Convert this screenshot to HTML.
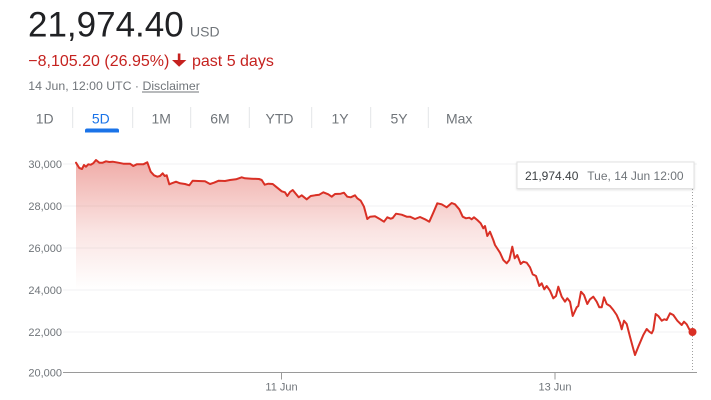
<!DOCTYPE html>
<html>
<head>
<meta charset="utf-8">
<style>
  html,body{margin:0;padding:0;background:#fff;}
  body{width:711px;height:400px;overflow:hidden;}
  svg{display:block;font-family:"Liberation Sans", Arial, sans-serif;}
</style>
</head>
<body>
<svg width="711" height="400" viewBox="0 0 711 400" xmlns="http://www.w3.org/2000/svg">
  <defs>
    <linearGradient id="g" gradientUnits="userSpaceOnUse" x1="0" y1="160" x2="0" y2="290">
      <stop offset="0" stop-color="#d93025" stop-opacity="0.4"/>
      <stop offset="0.55" stop-color="#d93025" stop-opacity="0.13"/>
      <stop offset="1" stop-color="#d93025" stop-opacity="0"/>
    </linearGradient>
    <filter id="sh" x="-10%" y="-30%" width="120%" height="160%">
      <feDropShadow dx="0" dy="1" stdDeviation="1" flood-color="#000" flood-opacity="0.12"/>
    </filter>
  </defs>
  <rect width="711" height="400" fill="#fff"/>

  <!-- Header -->
  <text x="28" y="36.7" font-size="35" fill="#202124">21,974.40</text>
  <text x="190" y="36.5" font-size="14" fill="#70757a">USD</text>

  <text x="28.3" y="66" font-size="16" fill="#c5221f">−8,105.20 (26.95%)</text>
  <rect x="177.8" y="53.5" width="2.6" height="7.5" fill="#c5221f"/>
  <polygon points="172,60 186.4,60 179.1,66.8" fill="#c5221f"/>
  <text x="192" y="66" font-size="16" fill="#c5221f">past 5 days</text>

  <text x="28.3" y="90" font-size="12.3" fill="#70757a">14 Jun, 12:00 UTC · Disclaimer</text>
  <line x1="142" y1="92" x2="199" y2="92" stroke="#70757a" stroke-width="0.9"/>

  <!-- Tabs -->
  <g font-size="14" fill="#70757a" text-anchor="middle">
    <text x="44.7" y="123.3">1D</text>
    <text x="100.8" y="123.3" fill="#1a73e8">5D</text>
    <text x="161.2" y="123.3">1M</text>
    <text x="220" y="123.3">6M</text>
    <text x="279.5" y="123.3">YTD</text>
    <text x="340" y="123.3">1Y</text>
    <text x="399" y="123.3">5Y</text>
    <text x="459.2" y="123.3">Max</text>
  </g>
  <g stroke="#e3e5e8" stroke-width="1">
    <line x1="72.7" y1="107" x2="72.7" y2="128"/>
    <line x1="132.7" y1="107" x2="132.7" y2="128"/>
    <line x1="190.7" y1="107" x2="190.7" y2="128"/>
    <line x1="249.3" y1="107" x2="249.3" y2="128"/>
    <line x1="311.7" y1="107" x2="311.7" y2="128"/>
    <line x1="370.7" y1="107" x2="370.7" y2="128"/>
    <line x1="428.3" y1="107" x2="428.3" y2="128"/>
  </g>
  <path d="M85 132.5 V130.5 A2 2 0 0 1 87 128.5 H117 A2 2 0 0 1 119 130.5 V132.5 Z" fill="#1a73e8"/>

  <!-- Gridlines -->
  <g stroke="#f1f2f3" stroke-width="1">
    <line x1="63" y1="164" x2="697" y2="164"/>
    <line x1="63" y1="206" x2="697" y2="206"/>
    <line x1="63" y1="248" x2="697" y2="248"/>
    <line x1="63" y1="290" x2="697" y2="290"/>
    <line x1="63" y1="332" x2="697" y2="332"/>
  </g>

  <!-- Y labels -->
  <g font-size="11" fill="#70757a" text-anchor="end">
    <text x="62" y="168">30,000</text>
    <text x="62" y="210">28,000</text>
    <text x="62" y="252">26,000</text>
    <text x="62" y="294">24,000</text>
    <text x="62" y="336">22,000</text>
    <text x="62" y="376.5">20,000</text>
  </g>

  <!-- Area fill -->
  <polygon fill="url(#g)" points="76,162.7 79.3,168 82,169 84,165 86,166.7 88.3,164.3 90.7,164.7 93.3,163.3 96,160 99.3,162.7 102.7,162.7 106,161.3 109.3,162 112.7,161.7 118.3,162.7 123.3,163.7 130,163.7 133.3,166 136.7,164.3 143.3,164.3 147.3,162.3 150.7,171.7 154,175.3 157.3,176.7 160,176 162.7,173.3 164.7,176 166.7,175.3 169.3,184.3 171.7,183.3 176,181.7 180,183.3 185,184 189.3,185.3 192.7,180.7 198.3,181 205,181.3 210,184 214,182.7 218.7,180.7 225,181 230,180 236,179.3 241.7,177.3 245,178.3 251.7,178.7 259,179 261.7,180 264.7,184.7 268.3,183.7 272.7,184 276,186.7 281.7,191.3 285,192.3 287.3,196 290,192 292.7,190 296,194 298.7,197.3 301.7,195.3 306.7,199.3 310.7,196 315,195.3 319.3,194.7 323.3,192.3 328.3,194.3 331.7,196.7 335,194 340.7,193.7 344,192.7 347.3,196.7 350.7,197.3 355,195.3 357.3,198.3 360.7,200.7 364,206.7 367.3,219 370,216.7 375,216.3 379.3,218.7 384,221.7 387.3,217.3 390.7,218.7 392.7,218 396,213.7 401.7,214.7 406.7,216.7 410,216.7 415,219 420,217 425,219.3 429.3,221.7 433.3,212.7 437.3,203.3 441.7,204.3 446.7,207.3 451.7,203 455,204.3 459.3,209.3 462.7,216.7 466,218.3 469.3,217.7 471.7,219.3 474,217.3 477.3,220 480.7,223.3 483.3,228.3 485,226 487.3,236 490,231.7 493.3,240 495,245 500,252.7 503.3,260 506.7,263.3 509.3,260 512.3,246.7 514.7,258.3 517.3,255 520.7,264 523.3,261.7 526.7,262.7 530,267.3 532.7,274.3 536,276 539.3,286 541.7,283.3 544.3,289.3 546.7,286 550,290.7 553.3,298.3 556,296 558.3,286.7 561.7,296.7 565,301.7 567.3,298.3 570,301.7 572.7,316 576.7,307.3 578.3,306 581,291.7 584,295 587.3,304 590,299.3 593.3,296.7 596.7,301.7 599.3,307.3 601.7,307.3 604,297.3 606.7,304 610,306 613.3,310 616.7,315 620,322.7 621.7,329.3 624,320.7 626.7,324 630,336.7 632.7,346.7 635,355 638.3,346.7 643.3,335 646.7,329 649.3,331.7 651.7,333.3 653.3,330 655.7,314 658.3,316 661.7,320.7 664.3,319.3 666.7,320 670,313.3 673.3,315 677.3,320.7 681.7,325 684,321.7 686.7,324.3 689.3,329.3 692.5,332 692.5,372 76,372"/>

  <!-- Axis -->
  <line x1="63" y1="372.5" x2="697" y2="372.5" stroke="#9a9a9a" stroke-width="1"/>
  <line x1="281.5" y1="372.5" x2="281.5" y2="379.5" stroke="#9a9a9a" stroke-width="1"/>
  <line x1="555" y1="372.5" x2="555" y2="379.5" stroke="#9a9a9a" stroke-width="1"/>
  <g font-size="11" fill="#70757a" text-anchor="middle">
    <text x="281.5" y="390.5">11 Jun</text>
    <text x="555" y="390.5">13 Jun</text>
  </g>

  <!-- Dotted hover line -->
  <line x1="692.5" y1="189" x2="692.5" y2="372" stroke="#a0a0a0" stroke-width="1" stroke-dasharray="1,2"/>

  <!-- Line -->
  <polyline fill="none" stroke="#d93025" stroke-width="2" stroke-linejoin="round" stroke-linecap="round" points="76,162.7 79.3,168 82,169 84,165 86,166.7 88.3,164.3 90.7,164.7 93.3,163.3 96,160 99.3,162.7 102.7,162.7 106,161.3 109.3,162 112.7,161.7 118.3,162.7 123.3,163.7 130,163.7 133.3,166 136.7,164.3 143.3,164.3 147.3,162.3 150.7,171.7 154,175.3 157.3,176.7 160,176 162.7,173.3 164.7,176 166.7,175.3 169.3,184.3 171.7,183.3 176,181.7 180,183.3 185,184 189.3,185.3 192.7,180.7 198.3,181 205,181.3 210,184 214,182.7 218.7,180.7 225,181 230,180 236,179.3 241.7,177.3 245,178.3 251.7,178.7 259,179 261.7,180 264.7,184.7 268.3,183.7 272.7,184 276,186.7 281.7,191.3 285,192.3 287.3,196 290,192 292.7,190 296,194 298.7,197.3 301.7,195.3 306.7,199.3 310.7,196 315,195.3 319.3,194.7 323.3,192.3 328.3,194.3 331.7,196.7 335,194 340.7,193.7 344,192.7 347.3,196.7 350.7,197.3 355,195.3 357.3,198.3 360.7,200.7 364,206.7 367.3,219 370,216.7 375,216.3 379.3,218.7 384,221.7 387.3,217.3 390.7,218.7 392.7,218 396,213.7 401.7,214.7 406.7,216.7 410,216.7 415,219 420,217 425,219.3 429.3,221.7 433.3,212.7 437.3,203.3 441.7,204.3 446.7,207.3 451.7,203 455,204.3 459.3,209.3 462.7,216.7 466,218.3 469.3,217.7 471.7,219.3 474,217.3 477.3,220 480.7,223.3 483.3,228.3 485,226 487.3,236 490,231.7 493.3,240 495,245 500,252.7 503.3,260 506.7,263.3 509.3,260 512.3,246.7 514.7,258.3 517.3,255 520.7,264 523.3,261.7 526.7,262.7 530,267.3 532.7,274.3 536,276 539.3,286 541.7,283.3 544.3,289.3 546.7,286 550,290.7 553.3,298.3 556,296 558.3,286.7 561.7,296.7 565,301.7 567.3,298.3 570,301.7 572.7,316 576.7,307.3 578.3,306 581,291.7 584,295 587.3,304 590,299.3 593.3,296.7 596.7,301.7 599.3,307.3 601.7,307.3 604,297.3 606.7,304 610,306 613.3,310 616.7,315 620,322.7 621.7,329.3 624,320.7 626.7,324 630,336.7 632.7,346.7 635,355 638.3,346.7 643.3,335 646.7,329 649.3,331.7 651.7,333.3 653.3,330 655.7,314 658.3,316 661.7,320.7 664.3,319.3 666.7,320 670,313.3 673.3,315 677.3,320.7 681.7,325 684,321.7 686.7,324.3 689.3,329.3 692.5,332"/>
  <circle cx="692.5" cy="332" r="4" fill="#d93025"/>

  <!-- Tooltip -->
  <rect x="517" y="162" width="177" height="26.5" fill="#fff" stroke="#e2e2e2" stroke-width="1" filter="url(#sh)"/>
  <text x="525" y="180" font-size="12" fill="#3c4043">21,974.40</text>
  <text x="587.3" y="180" font-size="12" fill="#70757a">Tue, 14 Jun 12:00</text>
</svg>
</body>
</html>
